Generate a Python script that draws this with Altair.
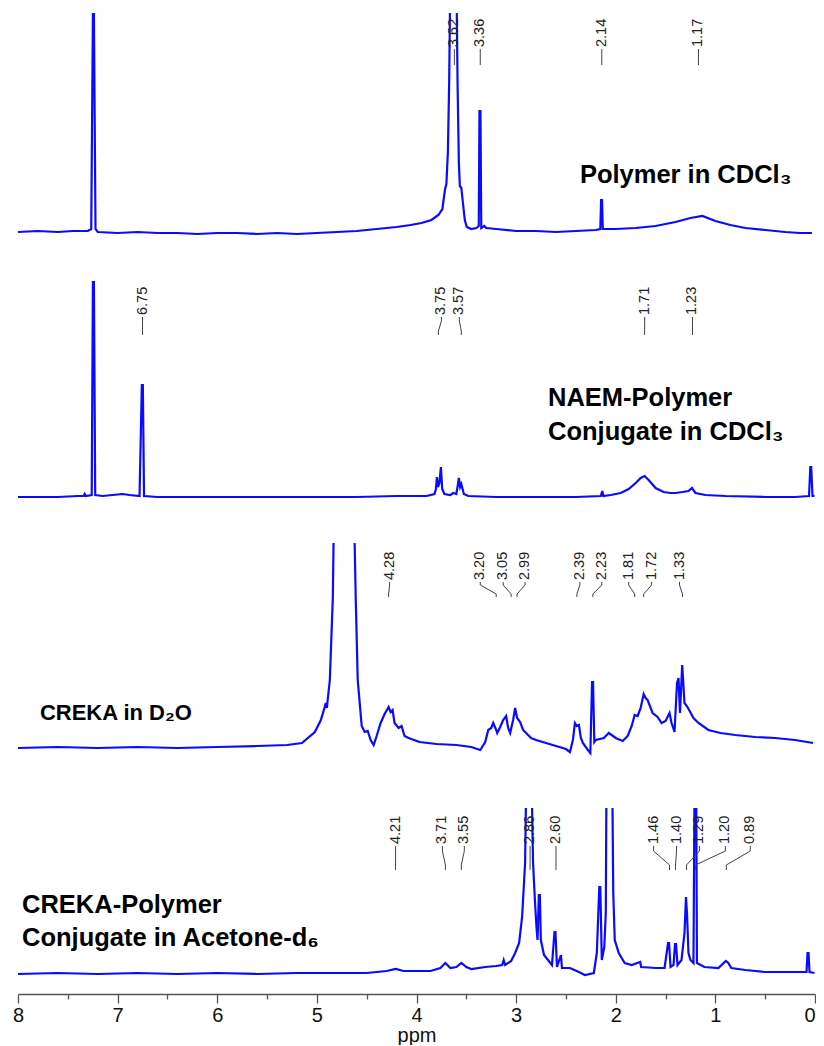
import altair as alt
import pandas as pd

# ---------------- data (ppm, intensity in arbitrary units above baseline) ----------------
s1_ppm = [8.00, 7.80, 7.60, 7.45, 7.30, 7.265, 7.248, 7.238, 7.222, 7.20, 7.00, 6.80, 6.60, 6.40, 6.20,
          6.00, 5.80, 5.60, 5.40, 5.20, 5.00, 4.80, 4.60, 4.40, 4.20, 4.06, 3.95, 3.85, 3.78, 3.74,
          3.715, 3.70, 3.685, 3.672, 3.660, 3.600, 3.588, 3.575, 3.565, 3.550, 3.535, 3.515, 3.495,
          3.45, 3.40, 3.375, 3.368, 3.358, 3.350, 3.32, 3.30, 3.20, 3.00, 2.80, 2.60, 2.40, 2.20,
          2.155, 2.147, 2.138, 2.130, 2.00, 1.80, 1.60, 1.40, 1.25, 1.13, 1.00, 0.85, 0.70, 0.50,
          0.30, 0.15, 0.03]
s1_int = [0, 1, 0, 1, 1, 3, 218, 218, 3, 0, -1, 0, -1, -1, -2,
          -1, -1, -2, -1, -2, -1, 0, 1, 3, 5, 7, 9, 12, 17, 23,
          42, 48, 80, 150, 260, 260, 150, 70, 46, 44, 30, 12, 5,
          3, 4, 6, 121, 121, 4, 6, 4, 3, 1, 1, 0, 1, 2,
          3, 32, 32, 3, 3, 4, 6, 10, 14, 16, 11, 7, 4, 2,
          0, -1, -1]

s2_ppm = [8.00, 7.60, 7.40, 7.34, 7.33, 7.32, 7.26, 7.248, 7.238, 7.225, 7.15, 7.05, 6.95, 6.88, 6.78,
          6.757, 6.747, 6.735, 6.60, 6.20, 5.80, 5.40, 5.00, 4.60, 4.20, 3.90, 3.82, 3.805, 3.795,
          3.785, 3.770, 3.755, 3.742, 3.72, 3.66, 3.63, 3.60, 3.585, 3.575, 3.562, 3.550, 3.540,
          3.525, 3.48, 3.20, 2.80, 2.40, 2.15, 2.135, 2.125, 2.05, 1.95, 1.87, 1.80, 1.75, 1.71,
          1.67, 1.60, 1.52, 1.45, 1.40, 1.33, 1.27, 1.235, 1.20, 1.10, 0.90, 0.50, 0.20, 0.06,
          0.047, 0.038, 0.025, 0.005]
s2_int = [0, 0, 1, 1, 3, 1, 2, 215, 215, 2, 1, 2, 3, 2, 1,
          112, 112, 1, 0, 0, 0, 0, 0, 0, 1, 1, 3, 8, 20,
          10, 14, 30, 8, 3, 2, 4, 3, 12, 19, 10, 13, 9,
          3, 1, 0, 0, 0, 1, 6, 1, 2, 4, 8, 14, 19, 21,
          17, 9, 5, 4, 4, 5, 6, 9, 4, 2, 1, 0, 0, 1,
          30, 30, 1, 1]

s3_ppm = [8.00, 7.60, 7.20, 6.80, 6.40, 6.00, 5.60, 5.30, 5.15, 5.02, 4.96, 4.93, 4.91, 4.90, 4.87,
          4.84, 4.82, 4.64, 4.61, 4.59, 4.55, 4.52, 4.49, 4.46, 4.43, 4.40, 4.36, 4.32, 4.28, 4.26,
          4.24, 4.22, 4.18, 4.15, 4.12, 4.08, 3.97, 3.80, 3.60, 3.45, 3.36, 3.31, 3.28, 3.25, 3.23,
          3.20, 3.19, 3.16, 3.13, 3.10, 3.08, 3.06, 3.03, 3.01, 2.99, 2.96, 2.93, 2.90, 2.85, 2.80,
          2.70, 2.60, 2.50, 2.46, 2.43, 2.41, 2.39, 2.37, 2.35, 2.33, 2.28, 2.255, 2.238, 2.228,
          2.215, 2.20, 2.12, 2.07, 2.00, 1.93, 1.88, 1.84, 1.81, 1.78, 1.75, 1.72, 1.70, 1.68, 1.63,
          1.58, 1.54, 1.50, 1.46, 1.44, 1.41, 1.385, 1.37, 1.355, 1.333, 1.31, 1.28, 1.22, 1.17,
          1.07, 0.95, 0.80, 0.60, 0.40, 0.20, 0.02]
s3_int = [0, 1, 0, 1, 0, 1, 2, 3, 5, 16, 28, 38, 45, 40, 68,
          150, 300, 300, 150, 68, 22, 16, 17, 8, 3, 12, 25, 34, 41, 36,
          38, 25, 20, 22, 12, 10, 6, 4, 3, 1, -2, 6, 18, 20, 25,
          18, 15, 21, 28, 32, 20, 15, 28, 40, 30, 26, 18, 15, 10, 8,
          5, 2, -1, -4, 8, 25, 22, 23, 10, 5, -2, -5, 66, 66,
          6, 8, 10, 15, 10, 7, 12, 22, 33, 32, 40, 54, 50, 48, 35,
          31, 25, 27, 35, 25, 16, 65, 70, 35, 83, 45, 41, 30, 25,
          18, 15, 13, 11, 10, 8, 5]

s4_ppm = [8.00, 7.60, 7.20, 6.80, 6.40, 6.00, 5.60, 5.20, 4.80, 4.50, 4.30, 4.21, 4.13, 4.00, 3.86,
          3.76, 3.71, 3.66, 3.60, 3.55, 3.50, 3.45, 3.31, 3.20, 3.14, 3.125, 3.11, 3.05, 3.01, 2.97,
          2.94, 2.91, 2.89, 2.855, 2.83, 2.81, 2.795, 2.785, 2.772, 2.762, 2.752, 2.72, 2.64, 2.615,
          2.605, 2.59, 2.55, 2.54, 2.46, 2.37, 2.31, 2.22, 2.19, 2.165, 2.155, 2.14, 2.115, 2.10,
          2.09, 2.04, 2.025, 2.01, 1.97, 1.91, 1.84, 1.755, 1.745, 1.60, 1.51, 1.475, 1.465, 1.45,
          1.42, 1.405, 1.395, 1.38, 1.34, 1.31, 1.295, 1.285, 1.27, 1.25, 1.22, 1.205, 1.195, 1.185,
          1.11, 0.97, 0.895, 0.87, 0.84, 0.70, 0.51, 0.20, 0.085, 0.075, 0.065, 0.055, 0.005]
s4_int = [-1, 0, -1, 0, -1, 0, -1, 0, 0, 0, 2, 4, 2, 2, 2,
          5, 10, 5, 6, 10, 6, 4, 6, 7, 8, 13, 8, 12, 20, 30,
          56, 110, 250, 250, 110, 70, 45, 33, 78, 78, 33, 18, 8, 41,
          41, 6, 18, 5, 5, 1, -2, 0, 20, 86, 86, 13, 26, 60,
          250, 250, 80, 33, 20, 10, 8, 11, 6, 5, 5, 30, 30, 6,
          8, 29, 29, 8, 13, 40, 76, 60, 20, 13, 10, 250, 250, 10,
          6, 5, 12, 10, 5, 3, 1, 1, 1, 20, 20, 1, 0]

# peak labels: text, position of peak, position of label text
l1_text = ["3.62", "3.36", "2.14", "1.17"]
l1_peak = [3.62, 3.36, 2.14, 1.17]
l1_pos = [3.62, 3.36, 2.14, 1.17]

l2_text = ["6.75", "3.75", "3.57", "1.71", "1.23"]
l2_peak = [6.75, 3.78, 3.55, 1.71, 1.23]
l2_pos = [6.75, 3.75, 3.57, 1.71, 1.23]

l3_text = ["4.28", "3.20", "3.05", "2.99", "2.39", "2.23", "1.81", "1.72", "1.33"]
l3_peak = [4.28, 3.20, 3.05, 2.99, 2.39, 2.23, 1.81, 1.72, 1.33]
l3_pos = [4.27, 3.36, 3.13, 2.91, 2.36, 2.14, 1.87, 1.64, 1.36]

l4_text = ["4.21", "3.71", "3.55", "2.86", "2.60", "1.46", "1.40", "1.29", "1.20", "0.89"]
l4_peak = [4.21, 3.71, 3.55, 2.86, 2.60, 1.46, 1.40, 1.29, 1.20, 0.89]
l4_pos = [4.21, 3.74, 3.52, 2.86, 2.60, 1.62, 1.39, 1.16, 0.90, 0.65]

# sample names
n1_text = ["Polymer in CDCl\u2083"]
n1_ppm = [2.36]
n1_int = [57]
n2_text = ["NAEM-Polymer", "Conjugate in CDCl\u2083"]
n2_ppm = [2.68, 2.68]
n2_int = [99, 65]
n3_text = ["CREKA in D\u2082O"]
n3_ppm = [7.78]
n3_int = [35]
n4_text = ["CREKA-Polymer", "Conjugate in Acetone-d\u2086"]
n4_ppm = [7.96, 7.96]
n4_int = [68, 35]

tick_values = [i * 0.5 for i in range(17)]

# ---------------- styling ----------------
BLUE = "#0a0aff"
FONT = "Liberation Sans"
W = 797

xaxis = alt.Axis(
    values=tick_values,
    labelExpr="datum.value % 1 === 0 ? format(datum.value, 'd') : ''",
    labelAlign={"condition": {"test": "datum.value === 0", "value": "right"}, "value": "center"},
    tickSize={"condition": {"test": "datum.value % 1 === 0", "value": 9}, "value": 5},
    tickColor="#555555", domainColor="#555555", tickWidth=1.3, domainWidth=1.3,
    labelFont=FONT, labelFontSize=20, labelColor="#111111", labelPadding=2,
    labelFlush=False, labelOverlap=False,
    titleFont=FONT, titleFontSize=20, titleFontWeight="normal", titleColor="#111111",
    titlePadding=0, grid=False,
)


def panel(ppm, inten, ltext, lpeak, lpos, levels, text_level, ntext, nppm, nint, nsize, dom, height, bottom):
    ax = xaxis if bottom else None
    xs = alt.Scale(domain=[0, 8], reverse=True, nice=False, zero=False)
    ys = alt.Scale(domain=dom, nice=False, zero=False)

    df = pd.DataFrame({"ppm": ppm, "I": inten, "k": list(range(len(ppm)))})
    line = alt.Chart(df).mark_line(color=BLUE, strokeWidth=2.2, clip=True).encode(
        x=alt.X("ppm:Q", scale=xs, axis=ax, title="ppm"),
        y=alt.Y("I:Q", scale=ys, axis=None),
        order="k:Q",
    )

    rows = []
    for t, pk, ps in zip(ltext, lpeak, lpos):
        pts = [(pk, levels[0]), (pk, levels[1]), (ps, levels[2]), (ps, levels[3])]
        for k, (p, lv) in enumerate(pts):
            rows.append({"lab": t, "ppm": p, "I": lv, "k": k})
    cdf = pd.DataFrame(rows)
    conn = alt.Chart(cdf).mark_line(color="#444444", strokeWidth=1).encode(
        x=alt.X("ppm:Q", scale=xs, axis=ax, title="ppm"),
        y=alt.Y("I:Q", scale=ys, axis=None),
        detail="lab:N",
        order="k:Q",
    )

    tdf = pd.DataFrame({"lab": ltext, "ppm": lpos, "I": [text_level] * len(ltext)})
    txt = alt.Chart(tdf).mark_text(angle=270, align="left", baseline="middle", font=FONT,
                                   fontSize=14.5, color="#222222").encode(
        x=alt.X("ppm:Q", scale=xs, axis=ax, title="ppm"),
        y=alt.Y("I:Q", scale=ys, axis=None),
        text="lab:N",
    )

    ndf = pd.DataFrame({"name": ntext, "ppm": nppm, "I": nint})
    names = alt.Chart(ndf).mark_text(align="left", baseline="middle", font=FONT, fontSize=nsize,
                                     fontWeight="bold", color="#000000").encode(
        x=alt.X("ppm:Q", scale=xs, axis=ax, title="ppm"),
        y=alt.Y("I:Q", scale=ys, axis=None),
        text="name:N",
    )
    return alt.layer(line, conn, txt, names).properties(width=W, height=height)


p1 = panel(s1_ppm, s1_int, l1_text, l1_peak, l1_pos, [167, 170, 180, 183], 185,
           n1_text, n1_ppm, n1_int, 25.5, [-30, 219], 249, False)
p2 = panel(s2_ppm, s2_int, l2_text, l2_peak, l2_pos, [162, 166, 176, 180], 182,
           n2_text, n2_ppm, n2_int, 25.5, [-46, 235], 281, False)
p3 = panel(s3_ppm, s3_int, l3_text, l3_peak, l3_pos, [151, 154, 163, 166], 168,
           n3_text, n3_ppm, n3_int, 22, [-60, 205], 265, False)
p4 = panel(s4_ppm, s4_int, l4_text, l4_peak, l4_pos, [103, 108, 122, 127], 129,
           n4_text, n4_ppm, n4_int, 25.5, [-21, 165], 186, True)

chart = alt.vconcat(p1, p2, p3, p4, spacing=0).properties(
    padding={"left": 4, "top": 5, "right": 0, "bottom": 0}
).configure_view(stroke=None).configure_concat(spacing=0)

chart.save("out.html", embed_options={"renderer": "svg", "actions": False})
